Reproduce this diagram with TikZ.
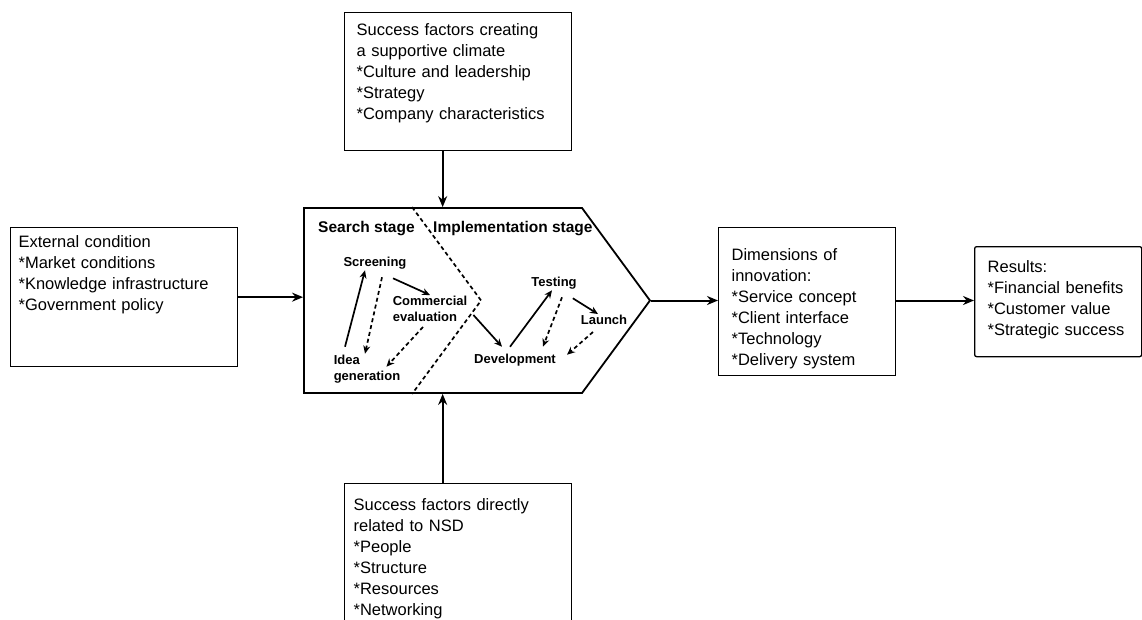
\documentclass[tikz,border=0pt]{standalone}
\usepackage{fontspec}
\setmainfont{Liberation Sans}
\usetikzlibrary{shapes.symbols, arrows.meta, positioning}

\begin{document}
\begin{tikzpicture}[
    x=1pt, y=-1pt, % pixel-like units, y pointing down
    factorbox/.style={rectangle, draw, line width=1.3pt, anchor=north west, align=left, font=\fontsize{16.5}{21}\selectfont, inner ysep=4pt},
    stagebox/.style={signal, signal to=east, draw, line width=1.8pt, minimum width=346pt, minimum height=185pt, signal pointer angle=107.4},
    stagetitle/.style={anchor=base west, font=\fontsize{15.5}{18}\selectfont\bfseries, inner sep=0pt},
    steplabel/.style={font=\fontsize{13}{16}\selectfont\bfseries, inner sep=1pt, align=left},
    arrow/.style={-{Stealth[length=11pt, width=9pt]}, line width=2pt},
    flow/.style={-{Stealth[length=8pt, width=7pt]}, line width=1.7pt},
    back/.style={flow, dash pattern=on 4pt off 3pt},
    divider/.style={line width=1.7pt, dash pattern=on 4pt off 3pt}
]
\useasboundingbox (0,0) rectangle (1142,619);

% Factor boxes
\node[factorbox, inner xsep=8pt, text width=211pt, text height=15.8pt, text depth=115.2pt] (ext) at (10,227) {External condition\\{}*Market conditions\\{}*Knowledge infrastructure\\{}*Government policy};
\node[factorbox, inner xsep=12pt, text width=203pt, text height=19.3pt, text depth=110.7pt] (climate) at (344,12) {Success factors creating\\a supportive climate\\{}*Culture and leadership\\{}*Strategy\\{}*Company characteristics};
\node[factorbox, inner xsep=9pt, text width=209pt, text height=23pt, text depth=125pt] (nsd) at (344,483) {Success factors directly\\related to NSD\\{}*People\\{}*Structure\\{}*Resources\\{}*Networking};
\node[factorbox, inner xsep=13pt, text width=151pt, text height=28.8pt, text depth=111.2pt] (dim) at (718,227) {Dimensions of\\innovation:\\{}*Service concept\\{}*Client interface\\{}*Technology\\{}*Delivery system};
\node[factorbox, rounded corners=2pt, inner xsep=13pt, text width=141pt, text height=22pt, text depth=80pt] (res) at (974,246) {Results:\\{}*Financial benefits\\{}*Customer value\\{}*Strategic success};

% NSD process
\node[stagebox] (proc) at (443,300.5) {};
\node[stagetitle] (search) at (318,232) {Search stage};
\node[stagetitle] (impl) at (433,232) {Implementation stage};
\draw[divider] ([xshift=109pt]proc.north west) -- ([xshift=178pt]proc.west) -- ([xshift=109pt]proc.south west);

% Steps
\node[steplabel] (scr) at (375,263) {Screening};
\node[steplabel] (com) at (430,309) {Commercial\\evaluation};
\node[steplabel] (idea) at (367,369) {Idea\\generation};
\node[steplabel] (dev) at (515,360) {Development};
\node[steplabel] (test) at (554,283) {Testing};
\node[steplabel] (lau) at (604,320) {Launch};

\draw[flow] ([shift={(-22pt,7pt)}]idea.north) -- ([xshift=-10pt]scr.south);
\draw[back] ([shift={(7pt,-7pt)}]scr.south) -- ([xshift=-2pt]idea.north);
\draw[flow] ([shift={(18pt,-8pt)}]scr.south) -- (com.north);
\draw[back] ([shift={(-7pt,-4pt)}]com.south) -- ([shift={(-15pt,-13pt)}]idea.north east);
\draw[flow] ([shift={(5pt,-6pt)}]com.east) -- ([shift={(-13pt,6pt)}]dev.north);
\draw[flow] ([shift={(-5pt,6pt)}]dev.north) -- ([xshift=-2pt]test.south);
\draw[back] ([shift={(8pt,-7pt)}]test.south) -- ([shift={(28pt,6pt)}]dev.north);
\draw[flow] ([shift={(-5pt,-8pt)}]test.south east) -- ([xshift=-6pt]lau.north);
\draw[back] ([shift={(-11pt,-6pt)}]lau.south) -- ([shift={(10pt,-2pt)}]dev.north east);

% Arrows
\draw[arrow] (ext.east) -- (ext.east -| proc.west);
\draw[arrow] ([xshift=-15.5pt]climate.south) -- ([xshift=-15.5pt]climate.south |- proc.north);
\draw[arrow] ([xshift=-15.5pt]nsd.north) -- ([xshift=-15.5pt]nsd.north |- proc.south);
\draw[arrow] (proc.east) -- (proc.east -| dim.west);
\draw[arrow] (dim.east |- proc.east) -- (res.west |- proc.east);

\end{tikzpicture}
\end{document}
